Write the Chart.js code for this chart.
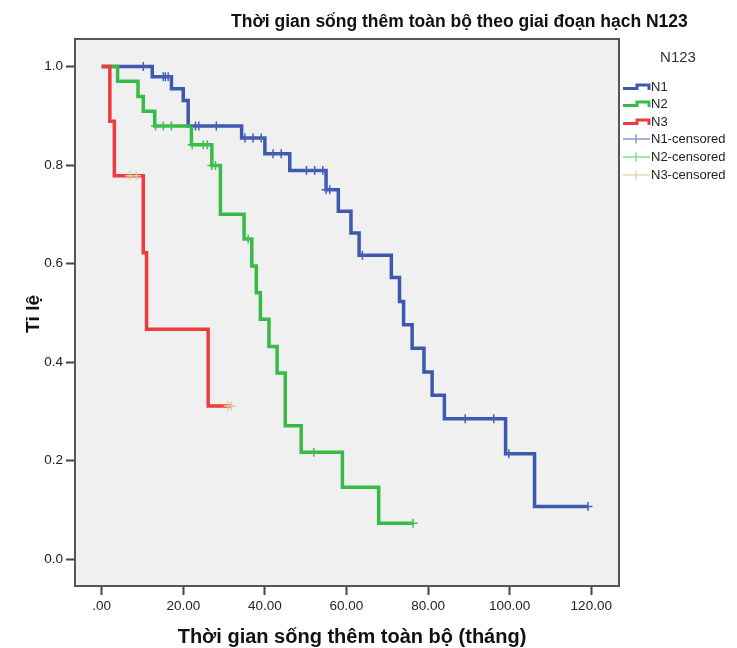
<!DOCTYPE html>
<html>
<head>
<meta charset="utf-8">
<script src="https://cdn.jsdelivr.net/npm/chart.js@4.4.1/dist/chart.umd.min.js"></script>
<style>
  body { margin: 0; background: #ffffff; }
  #wrap { width: 737px; height: 648px; }
</style>
</head>
<body>
<div id="wrap"><canvas id="kmChart" width="737" height="648"></canvas></div>
<script>
const groups = ["N1", "N2", "N3"];

// step curves (time in months, survival proportion)
const n1Times = [0, 12.4, 17.1, 20.0, 21.2, 34.3, 40.0, 46.1, 55.0, 58.0, 61.1, 63.1, 71.0, 73.0, 74.0, 76.1, 79.0, 81.0, 84.0, 99.0, 106.1, 119.2];
const n1Surv = [1, 0.979, 0.955, 0.931, 0.879, 0.855, 0.823, 0.789, 0.750, 0.706, 0.662, 0.617, 0.572, 0.523, 0.476, 0.428, 0.380, 0.333, 0.285, 0.214, 0.107, 0.107];

const n2Times = [0, 3.9, 8.9, 10.2, 13.0, 22.0, 27.0, 29.1, 34.9, 36.8, 37.9, 38.9, 41.0, 43.0, 45.0, 48.9, 59.0, 67.9, 76.3];
const n2Surv = [1, 0.970, 0.939, 0.909, 0.879, 0.841, 0.799, 0.700, 0.650, 0.595, 0.541, 0.487, 0.432, 0.378, 0.271, 0.217, 0.146, 0.073, 0.073];

const n3Times = [0, 2.0, 3.1, 10.2, 11.0, 26.1, 31.8];
const n3Surv = [1, 0.889, 0.778, 0.622, 0.467, 0.311, 0.311];

// censored observations
const n1CensTimes = [10.2, 15.1, 15.6, 16.3, 23.0, 23.8, 28.1, 35.1, 37.1, 39.1, 42.0, 44.0, 50.2, 52.2, 54.2, 55.0, 55.9, 63.9, 89.1, 96.1, 99.8, 119.2];
const n1CensSurv = [1, 0.979, 0.979, 0.979, 0.879, 0.879, 0.879, 0.855, 0.855, 0.855, 0.823, 0.823, 0.789, 0.789, 0.789, 0.750, 0.750, 0.617, 0.285, 0.285, 0.214, 0.107];

const n2CensTimes = [13.2, 15.1, 17.1, 22.2, 24.9, 25.9, 27.0, 27.9, 35.9, 52.0, 76.3];
const n2CensSurv = [0.879, 0.879, 0.879, 0.841, 0.841, 0.841, 0.799, 0.799, 0.650, 0.217, 0.073];

const n3CensTimes = [6.9, 8.5, 31.0, 31.8];
const n3CensSurv = [0.778, 0.778, 0.311, 0.311];

const xTickValues = [0, 20, 40, 60, 80, 100, 120];
const xTickLabels = [".00", "20.00", "40.00", "60.00", "80.00", "100.00", "120.00"];
const yTickValues = [0, 0.2, 0.4, 0.6, 0.8, 1.0];
const yTickLabels = ["0.0", "0.2", "0.4", "0.6", "0.8", "1.0"];

const lineColors = ["#3e58b0", "#38bb46", "#ef3a3e"];
const censColors = ["#4660b8", "#40c04e", "#d8ce98"];
const censLegendColors = ["#8a9ad6", "#86dc8e", "#e2dbb0"];

function toPoints(xs, ys) {
  return xs.map((x, i) => ({ x: x, y: ys[i] }));
}

function stepSet(label, xs, ys, color) {
  return {
    type: "line",
    label: label,
    data: toPoints(xs, ys),
    borderColor: color,
    backgroundColor: color,
    borderWidth: 3.5,
    stepped: "before",
    pointRadius: 0,
    fill: false
  };
}

function censSet(label, xs, ys, color) {
  return {
    type: "scatter",
    label: label,
    data: toPoints(xs, ys),
    borderColor: color,
    backgroundColor: color,
    pointStyle: "cross",
    pointRadius: 4.5,
    pointBorderWidth: 1.5,
    showLine: false
  };
}

const FONT = "'Liberation Sans', Arial, sans-serif";

const framePlugin = {
  id: "frame",
  beforeDraw(chart) {
    const { ctx, chartArea } = chart;
    ctx.save();
    ctx.fillStyle = "#f0f0f0";
    ctx.fillRect(chartArea.left, chartArea.top, chartArea.right - chartArea.left, chartArea.bottom - chartArea.top);
    ctx.restore();
  },
  afterDraw(chart) {
    const { ctx, chartArea } = chart;
    ctx.save();
    ctx.strokeStyle = "#555555";
    ctx.lineWidth = 2;
    ctx.strokeRect(chartArea.left, chartArea.top, chartArea.right - chartArea.left, chartArea.bottom - chartArea.top);

    // title
    ctx.fillStyle = "#111111";
    ctx.font = "bold 17.5px " + FONT;
    ctx.textAlign = "left";
    ctx.textBaseline = "alphabetic";
    ctx.fillText("Thời gian sống thêm toàn bộ theo giai đoạn hạch N123", 231, 27);

    // axis titles
    ctx.font = "bold 20px " + FONT;
    ctx.textAlign = "center";
    ctx.fillText("Thời gian sống thêm toàn bộ (tháng)", 352, 643);
    ctx.font = "bold 19px " + FONT;
    ctx.save();
    ctx.translate(39, 314);
    ctx.rotate(-Math.PI / 2);
    ctx.fillText("Tỉ lệ", 0, 0);
    ctx.restore();

    // legend
    ctx.font = "15px " + FONT;
    ctx.fillStyle = "#333333";
    ctx.textBaseline = "middle";
    ctx.fillText("N123", 678, 58);

    ctx.textAlign = "left";
    ctx.font = "13px " + FONT;
    const lineY = [86, 103, 121];
    groups.forEach((g, i) => {
      const y = lineY[i];
      ctx.strokeStyle = lineColors[i];
      ctx.lineWidth = 3;
      ctx.beginPath();
      ctx.moveTo(623, y + 2.5);
      ctx.lineTo(637, y + 2.5);
      ctx.lineTo(637, y - 1);
      ctx.lineTo(649, y - 1);
      ctx.lineTo(649, y + 4);
      ctx.stroke();
      ctx.fillStyle = "#222222";
      ctx.fillText(g, 651, y + 1);
    });
    const censY = [139, 157, 175];
    groups.forEach((g, i) => {
      const y = censY[i];
      ctx.strokeStyle = censLegendColors[i];
      ctx.lineWidth = 1.5;
      ctx.beginPath();
      ctx.moveTo(623, y);
      ctx.lineTo(650, y);
      ctx.moveTo(636, y - 4.5);
      ctx.lineTo(636, y + 4.5);
      ctx.stroke();
      ctx.fillStyle = "#222222";
      ctx.fillText(g + "-censored", 651, y);
    });
    ctx.restore();
  }
};

const ctx = document.getElementById("kmChart").getContext("2d");
const kmChart = new Chart(ctx, {
  data: {
    datasets: [
      censSet("N3-censored", n3CensTimes, n3CensSurv, censColors[2]),
      censSet("N2-censored", n2CensTimes, n2CensSurv, censColors[1]),
      censSet("N1-censored", n1CensTimes, n1CensSurv, censColors[0]),
      stepSet("N3", n3Times, n3Surv, lineColors[2]),
      stepSet("N2", n2Times, n2Surv, lineColors[1]),
      stepSet("N1", n1Times, n1Surv, lineColors[0])
    ]
  },
  plugins: [framePlugin],
  options: {
    responsive: false,
    animation: false,
    layout: {
      padding: { top: 39, right: 118, left: 0, bottom: 0 }
    },
    plugins: {
      legend: { display: false },
      tooltip: { enabled: false },
      title: { display: false }
    },
    scales: {
      x: {
        type: "linear",
        min: -6.54,
        max: 126.8,
        afterFit(scale) { scale.height = 62; },
        afterBuildTicks(scale) { scale.ticks = xTickValues.map(v => ({ value: v })); },
        grid: {
          drawOnChartArea: false,
          drawTicks: true,
          tickLength: 9,
          tickWidth: 2,
          tickColor: "#444444"
        },
        border: { display: true, color: "#555555", width: 2 },
        ticks: {
          padding: 3,
          color: "#222222",
          font: { family: FONT, size: 13.5 },
          maxRotation: 0,
          callback: (v, i) => xTickLabels[i]
        }
      },
      y: {
        type: "linear",
        min: -0.0542,
        max: 1.0557,
        afterFit(scale) { scale.width = 75; },
        afterBuildTicks(scale) { scale.ticks = yTickValues.map(v => ({ value: v })); },
        grid: {
          drawOnChartArea: false,
          drawTicks: true,
          tickLength: 9,
          tickWidth: 2,
          tickColor: "#444444"
        },
        border: { display: true, color: "#555555", width: 2 },
        ticks: {
          padding: 3,
          color: "#222222",
          font: { family: FONT, size: 13.5 },
          callback: (v, i) => yTickLabels[i]
        }
      }
    }
  }
});
</script>
</body>
</html>
